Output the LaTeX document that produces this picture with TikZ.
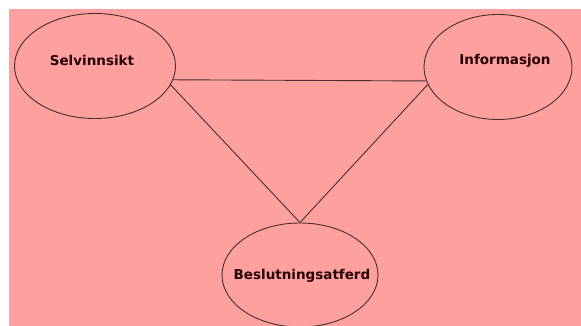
\documentclass[tikz,border=0pt]{standalone}
\usepackage{fontspec}
\setmainfont{DejaVu Sans}
\usetikzlibrary{shapes.geometric}
\definecolor{bgpink}{RGB}{255,160,160}
\definecolor{edge}{RGB}{70,45,45}
\begin{document}
\begin{tikzpicture}[x=1pt,y=-1pt,
  oval/.style={ellipse,draw=edge,line width=0.9pt,inner sep=0pt},
  lbl/.style={font=\fontsize{13.5}{16}\selectfont\bfseries,text=black!85!red},
  conn/.style={draw=edge,line width=0.9pt}]
\useasboundingbox (0,0) rectangle (581,326);
\fill[white] (0,0) rectangle (581,326);
\fill[bgpink] (9,9) rectangle (581,326);
\node[oval,minimum width=161pt,minimum height=105pt] (s) at (95,66) {};
\node[oval,minimum width=148pt,minimum height=105pt] (i) at (498,67) {};
\node[oval,minimum width=156pt,minimum height=104pt] (b) at (300,275) {};
\node[lbl] (ts) at (92,60) {Selvinnsikt};
\node[lbl] (ti) at (505,61) {Informasjon};
\node[lbl] (tb) at (302,276) {Beslutningsatferd};
\draw[conn] (s.-10) -- (i.191);
\draw[conn] (s.-14) -- (b.north) -- (i.194);
\end{tikzpicture}
\end{document}
